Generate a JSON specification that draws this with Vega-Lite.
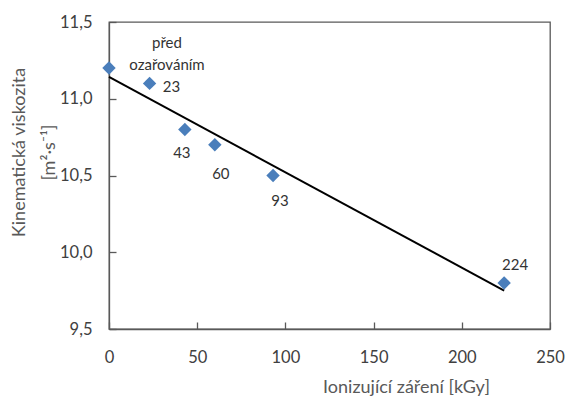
{
  "$schema": "https://vega.github.io/schema/vega-lite/v6.json",
  "width": 441,
  "height": 307,
  "autosize": "none",
  "padding": {"left": 109, "top": 22, "right": 18, "bottom": 69},
  "background": "white",
  "config": {
    "font": "Lato",
    "view": {"stroke": "#595959", "strokeWidth": 1.3},
    "axis": {
      "grid": false,
      "domainColor": "#595959",
      "domainWidth": 1.3,
      "tickColor": "#595959",
      "tickWidth": 1.3,
      "tickSize": -7,
      "labelFlush": false,
      "labelColor": "#404040",
      "labelFont": "Lato",
      "labelFontSize": 16.5,
      "titleColor": "#595959",
      "titleFont": "Lato",
      "titleFontSize": 18,
      "titleFontWeight": "normal"
    }
  },
  "data": {
    "values": [
      {"dose": 0, "visc": 11.2, "label": "před|ozařováním"},
      {"dose": 23, "visc": 11.1, "label": "23"},
      {"dose": 43, "visc": 10.8, "label": "43"},
      {"dose": 60, "visc": 10.7, "label": "60"},
      {"dose": 93, "visc": 10.5, "label": "93"},
      {"dose": 224, "visc": 9.8, "label": "224"}
    ]
  },
  "encoding": {
    "x": {
      "field": "dose", "type": "quantitative",
      "scale": {"domain": [0, 250], "nice": false, "zero": false},
      "axis": {
        "values": [0, 50, 100, 150, 200, 250],
        "title": "Ionizující záření [kGy]",
        "labelPadding": 27,
        "titleX": 297, "titleY": 63, "titleAnchor": null, "titleAlign": "center", "titleBaseline": "alphabetic"
      }
    },
    "y": {
      "field": "visc", "type": "quantitative",
      "scale": {"domain": [9.5, 11.5], "nice": false, "zero": false},
      "axis": {
        "values": [9.5, 10, 10.5, 11, 11.5],
        "labelExpr": "replace(format(datum.value, '.1f'), '.', ',')",
        "labelPadding": 24,
        "title": ["Kinematická viskozita", "[m²·s⁻¹]"],
        "titleAngle": -90,
        "titleX": -99, "titleY": 130, "titleAlign": "center", "titleBaseline": "top",
        "titleLineHeight": 30
      }
    }
  },
  "layer": [
    {
      "transform": [{"regression": "visc", "on": "dose"}],
      "mark": {"type": "line", "color": "black", "strokeWidth": 2}
    },
    {
      "mark": {"type": "point", "shape": "diamond", "filled": true, "size": 180, "color": "#4a7ebb", "opacity": 1}
    },
    {
      "transform": [{"filter": "datum.dose == 0"}],
      "mark": {"type": "text", "dx": 58, "dy": -25, "fontSize": 15, "color": "#333333", "lineBreak": "|", "lineHeight": 22, "baseline": "middle"},
      "encoding": {"text": {"field": "label"}}
    },
    {
      "transform": [{"filter": "datum.dose == 23"}],
      "mark": {"type": "text", "dx": 22, "dy": 4, "fontSize": 15, "color": "#333333", "baseline": "middle"},
      "encoding": {"text": {"field": "label"}}
    },
    {
      "transform": [{"filter": "datum.dose == 43"}],
      "mark": {"type": "text", "dx": -3, "dy": 24, "fontSize": 15, "color": "#333333", "baseline": "middle"},
      "encoding": {"text": {"field": "label"}}
    },
    {
      "transform": [{"filter": "datum.dose == 60"}],
      "mark": {"type": "text", "dx": 6, "dy": 29, "fontSize": 15, "color": "#333333", "baseline": "middle"},
      "encoding": {"text": {"field": "label"}}
    },
    {
      "transform": [{"filter": "datum.dose == 93"}],
      "mark": {"type": "text", "dx": 7, "dy": 25, "fontSize": 15, "color": "#333333", "baseline": "middle"},
      "encoding": {"text": {"field": "label"}}
    },
    {
      "transform": [{"filter": "datum.dose == 224"}],
      "mark": {"type": "text", "dx": 11, "dy": -18, "fontSize": 15, "color": "#333333", "baseline": "middle"},
      "encoding": {"text": {"field": "label"}}
    }
  ]
}
